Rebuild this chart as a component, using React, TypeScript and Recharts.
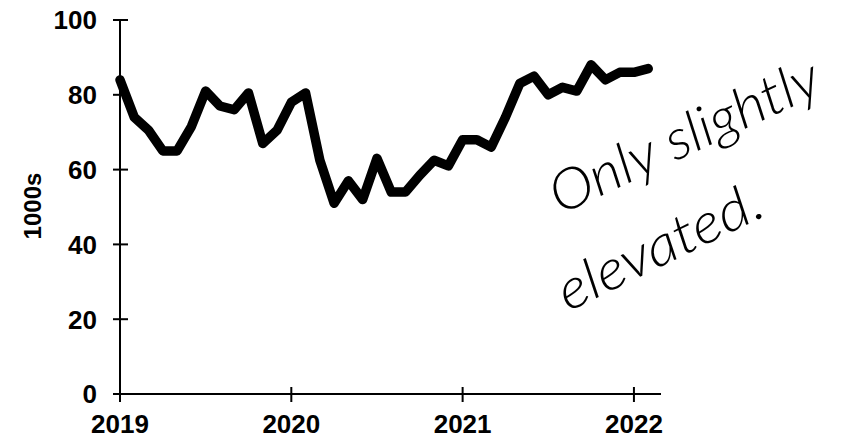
import React from "react";
import { LineChart, Line, XAxis, YAxis } from "recharts";

// monthly readings, Jan 2019 .. Feb 2022 (thousands)
const months = [
  "2019-01", "2019-02", "2019-03", "2019-04", "2019-05", "2019-06",
  "2019-07", "2019-08", "2019-09", "2019-10", "2019-11", "2019-12",
  "2020-01", "2020-02", "2020-03", "2020-04", "2020-05", "2020-06",
  "2020-07", "2020-08", "2020-09", "2020-10", "2020-11", "2020-12",
  "2021-01", "2021-02", "2021-03", "2021-04", "2021-05", "2021-06",
  "2021-07", "2021-08", "2021-09", "2021-10", "2021-11", "2021-12",
  "2022-01", "2022-02",
];
const values = [
  84, 74, 70.5, 65, 65, 71.5, 81, 77, 76, 80.5, 67, 70.5,
  78, 80.5, 62.5, 51, 57, 52, 63, 54, 54, 58.5, 62.5, 61,
  68, 68, 66, 74, 83, 85, 80, 82, 81, 88, 84, 86,
  86, 87,
];
const yearTicks = [2019, 2020, 2021, 2022];
const valueTicks = [0, 20, 40, 60, 80, 100];

const data = months.map((m, i) => {
  const [yr, mo] = m.split("-").map(Number);
  return { t: yr + (mo - 1) / 12, v: values[i] };
});

const tickFont = {
  fontFamily: "'Liberation Sans', Arial, sans-serif",
  fontWeight: 700,
  fontSize: 26,
  fill: "#000",
};

function YTick(props: any) {
  const { x, y, payload } = props;
  return (
    <g>
      <line x1={x - 7} x2={x + 8} y1={y} y2={y} stroke="#000" strokeWidth={2} />
      <text x={x - 23} y={y} dy="0.36em" textAnchor="end" {...tickFont}>
        {payload.value}
      </text>
    </g>
  );
}

function XTick(props: any) {
  const { x, y, payload } = props;
  return (
    <g>
      <line x1={x} x2={x} y1={y - 7} y2={y + 8} stroke="#000" strokeWidth={2} />
      <text x={x} y={y + 39} textAnchor="middle" {...tickFont}>
        {payload.value}
      </text>
    </g>
  );
}

const handFont = {
  fontFamily: "Lato, 'Open Sans', sans-serif",
  fontWeight: 300,
  fontStyle: "italic" as const,
  fontSize: 56,
  fill: "#000",
};

export default function App() {
  return (
    <div style={{ position: "absolute", left: 0, top: 0, width: 848, height: 439, background: "#fff" }}>
      <LineChart
        width={848}
        height={439}
        data={data}
        margin={{ top: 20, right: 187, left: 40, bottom: 0 }}
      >
        <XAxis
          type="number"
          dataKey="t"
          domain={[2019, 2022.158]}
          ticks={yearTicks}
          tick={<XTick />}
          tickLine={false}
          tickSize={0}
          tickMargin={0}
          height={45}
          axisLine={{ stroke: "#000", strokeWidth: 2 }}
        />
        <YAxis
          type="number"
          domain={[0, 100]}
          ticks={valueTicks}
          tick={<YTick />}
          tickLine={false}
          tickSize={0}
          tickMargin={0}
          width={80}
          axisLine={{ stroke: "#000", strokeWidth: 2 }}
        />
        <Line
          type="linear"
          dataKey="v"
          stroke="#000"
          strokeWidth={9.5}
          strokeLinejoin="round"
          strokeLinecap="round"
          dot={false}
          isAnimationActive={false}
        />
      </LineChart>
      <svg
        width={848}
        height={439}
        style={{ position: "absolute", left: 0, top: 0, pointerEvents: "none" }}
      >
        <text
          x={32}
          y={206}
          dy="0.36em"
          textAnchor="middle"
          transform="rotate(-90 32 206)"
          {...tickFont}
          fontSize={24}
        >
          1000s
        </text>
        <text
          x={560}
          y={215}
          transform="rotate(-25 560 215)"
          textLength={292}
          lengthAdjust="spacingAndGlyphs"
          {...handFont}
        >
          Only slightly
        </text>
        <text
          x={568}
          y={312}
          transform="rotate(-26 568 312)"
          textLength={222}
          lengthAdjust="spacingAndGlyphs"
          {...handFont}
        >
          elevated.
        </text>
      </svg>
    </div>
  );
}
